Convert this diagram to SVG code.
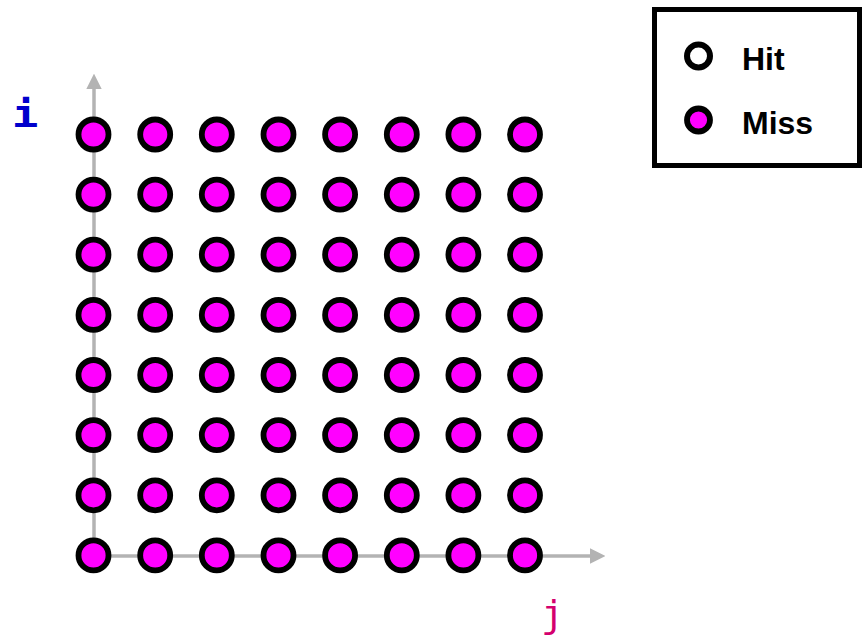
<svg xmlns="http://www.w3.org/2000/svg" width="865" height="638" viewBox="0 0 865 638">
<style>
.axis{stroke:#b3b3b3;stroke-width:3.5;fill:none}
.miss{fill:#ff00ff;stroke:#000;stroke-width:5.8}
.hit{fill:#fff;stroke:#000;stroke-width:6}
.lg{font-family:"Liberation Sans",Arial,sans-serif;font-weight:bold;font-size:32px;fill:#000}
.ax{font-family:"DejaVu Sans Mono","Liberation Mono",monospace;font-size:38px}
</style>
<defs>
<marker id="ah" viewBox="0 0 10 10" refX="0" refY="5" markerWidth="4.4" markerHeight="4.4" markerUnits="strokeWidth" orient="auto">
<path d="M0,0 L10,5 L0,10 z" fill="#b3b3b3"/>
</marker>
</defs>
<g id="connectors">
<line class="axis" x1="94" y1="557" x2="94" y2="89" marker-end="url(#ah)"/>
<line class="axis" x1="94" y1="556" x2="590" y2="556" marker-end="url(#ah)"/>
</g>
<text id="label-i" class="ax" x="12" y="127" fill="#0000cc" font-weight="bold" transform="translate(12 0) scale(1.15 1) translate(-12 0)">i</text>
<text id="label-j" class="ax" x="541" y="627" fill="#d4006e">j</text>
<g id="grid">
<g id="row0"><circle class="miss" cx="93.5" cy="134.5" r="15"/><circle class="miss" cx="155.2" cy="134.5" r="15"/><circle class="miss" cx="216.8" cy="134.5" r="15"/><circle class="miss" cx="278.5" cy="134.5" r="15"/><circle class="miss" cx="340.1" cy="134.5" r="15"/><circle class="miss" cx="401.8" cy="134.5" r="15"/><circle class="miss" cx="463.4" cy="134.5" r="15"/><circle class="miss" cx="525" cy="134.5" r="15"/></g>
<g id="row1"><circle class="miss" cx="93.5" cy="194.6" r="15"/><circle class="miss" cx="155.2" cy="194.6" r="15"/><circle class="miss" cx="216.8" cy="194.6" r="15"/><circle class="miss" cx="278.5" cy="194.6" r="15"/><circle class="miss" cx="340.1" cy="194.6" r="15"/><circle class="miss" cx="401.8" cy="194.6" r="15"/><circle class="miss" cx="463.4" cy="194.6" r="15"/><circle class="miss" cx="525" cy="194.6" r="15"/></g>
<g id="row2"><circle class="miss" cx="93.5" cy="254.7" r="15"/><circle class="miss" cx="155.2" cy="254.7" r="15"/><circle class="miss" cx="216.8" cy="254.7" r="15"/><circle class="miss" cx="278.5" cy="254.7" r="15"/><circle class="miss" cx="340.1" cy="254.7" r="15"/><circle class="miss" cx="401.8" cy="254.7" r="15"/><circle class="miss" cx="463.4" cy="254.7" r="15"/><circle class="miss" cx="525" cy="254.7" r="15"/></g>
<g id="row3"><circle class="miss" cx="93.5" cy="314.9" r="15"/><circle class="miss" cx="155.2" cy="314.9" r="15"/><circle class="miss" cx="216.8" cy="314.9" r="15"/><circle class="miss" cx="278.5" cy="314.9" r="15"/><circle class="miss" cx="340.1" cy="314.9" r="15"/><circle class="miss" cx="401.8" cy="314.9" r="15"/><circle class="miss" cx="463.4" cy="314.9" r="15"/><circle class="miss" cx="525" cy="314.9" r="15"/></g>
<g id="row4"><circle class="miss" cx="93.5" cy="375" r="15"/><circle class="miss" cx="155.2" cy="375" r="15"/><circle class="miss" cx="216.8" cy="375" r="15"/><circle class="miss" cx="278.5" cy="375" r="15"/><circle class="miss" cx="340.1" cy="375" r="15"/><circle class="miss" cx="401.8" cy="375" r="15"/><circle class="miss" cx="463.4" cy="375" r="15"/><circle class="miss" cx="525" cy="375" r="15"/></g>
<g id="row5"><circle class="miss" cx="93.5" cy="435.1" r="15"/><circle class="miss" cx="155.2" cy="435.1" r="15"/><circle class="miss" cx="216.8" cy="435.1" r="15"/><circle class="miss" cx="278.5" cy="435.1" r="15"/><circle class="miss" cx="340.1" cy="435.1" r="15"/><circle class="miss" cx="401.8" cy="435.1" r="15"/><circle class="miss" cx="463.4" cy="435.1" r="15"/><circle class="miss" cx="525" cy="435.1" r="15"/></g>
<g id="row6"><circle class="miss" cx="93.5" cy="495.3" r="15"/><circle class="miss" cx="155.2" cy="495.3" r="15"/><circle class="miss" cx="216.8" cy="495.3" r="15"/><circle class="miss" cx="278.5" cy="495.3" r="15"/><circle class="miss" cx="340.1" cy="495.3" r="15"/><circle class="miss" cx="401.8" cy="495.3" r="15"/><circle class="miss" cx="463.4" cy="495.3" r="15"/><circle class="miss" cx="525" cy="495.3" r="15"/></g>
<g id="row7"><circle class="miss" cx="93.5" cy="555.4" r="15"/><circle class="miss" cx="155.2" cy="555.4" r="15"/><circle class="miss" cx="216.8" cy="555.4" r="15"/><circle class="miss" cx="278.5" cy="555.4" r="15"/><circle class="miss" cx="340.1" cy="555.4" r="15"/><circle class="miss" cx="401.8" cy="555.4" r="15"/><circle class="miss" cx="463.4" cy="555.4" r="15"/><circle class="miss" cx="525" cy="555.4" r="15"/></g>
</g>
<g id="legend">
<rect x="654.5" y="9.5" width="205" height="156" fill="#fff" stroke="#000" stroke-width="5"/>
<circle class="hit" cx="698.5" cy="56" r="11.5"/>
<text class="lg" x="742" y="70">Hit</text>
<circle class="miss" cx="698.5" cy="120" r="11.5" stroke-width="6"/>
<text class="lg" x="742" y="134">Miss</text>
</g>
</svg>
